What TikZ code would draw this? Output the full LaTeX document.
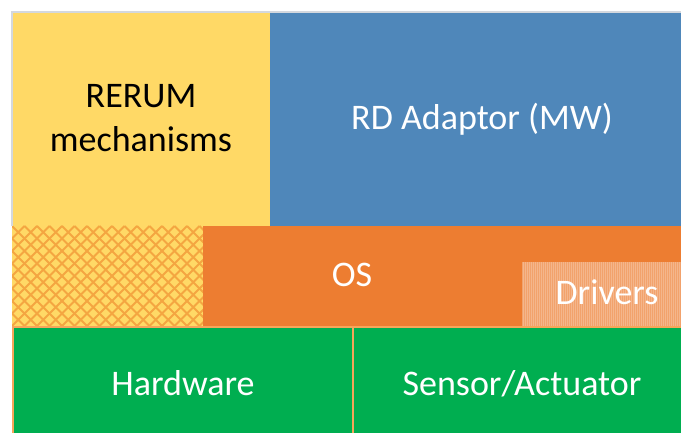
\documentclass[tikz,border=0pt]{standalone}
\usepackage{fontspec}
\setmainfont{Carlito}
\definecolor{cyellow}{HTML}{FFD966}
\definecolor{cblue}{HTML}{4F87BA}
\definecolor{corange}{HTML}{ED7D31}
\definecolor{cgreen}{HTML}{00AE50}
\definecolor{chatch}{HTML}{F4A641}
\definecolor{cdriver}{HTML}{F2A26C}
\definecolor{cedge}{HTML}{F5A65A}
\definecolor{cframe}{HTML}{D4D8DE}
\tikzset{
  box/.style={anchor=north west, inner sep=0pt, outer sep=0pt, draw=none},
  lbl/.style={anchor=base, inner sep=0pt, font=\fontsize{36}{44}\selectfont, text=white},
}
\begin{document}
\begin{tikzpicture}[x=1pt,y=-1pt]
\useasboundingbox (0,0) rectangle (681,433);
\fill[white] (0,0) rectangle (681,433);
\begin{scope}
\clip (0,0) rectangle (681,433);
% top row
\node[box, fill=cyellow, minimum width=258pt, minimum height=214pt] (rerum) at (12,12) {};
\node[box, fill=cblue, minimum width=423pt, minimum height=214pt] (rd) at (270,12) {};
% middle row
\node[box, fill=cyellow, minimum width=191pt, minimum height=100pt] (hatch) at (12,226) {};
\begin{scope}
\clip (12,226) rectangle (203,326);
\foreach \i in {-10,...,26} {
  \draw[chatch, line width=2pt] (12+\i*12.5,226) -- ++(110,110);
  \draw[chatch, line width=2pt] (12+\i*12.5,226) -- ++(-110,110);
}
\end{scope}
\node[box, fill=corange, minimum width=490pt, minimum height=100pt] (os) at (203,226) {};
\node[box, fill=cdriver, minimum width=171pt, minimum height=64pt] (drv) at (522,262) {};
\begin{scope}
\clip (522,262) rectangle (693,326);
\foreach \i in {0,...,85} {
  \draw[white, opacity=0.22, line width=0.8pt] (523+\i*2,262) -- ++(0,64);
}
\end{scope}
% bottom row
\node[box, fill=cgreen, draw=cedge, line width=2pt, minimum width=340pt, minimum height=120pt] (hw) at (13,327) {};
\node[box, fill=cgreen, draw=cedge, line width=2pt, minimum width=340pt, minimum height=120pt] (sa) at (353,327) {};
% frame
\draw[cframe, line width=1.5pt] (12,226) -- (12,12) -- (681,12);
\end{scope}
% labels
\node[lbl, text=black] (t1) at (141,108) {RERUM};
\node[lbl, text=black] (t2) at (141,152) {mechanisms};
\node[lbl] (t3) at (482,130) {RD Adaptor (MW)};
\node[lbl] (t4) at (352,287) {OS};
\node[lbl] (t5) at (607,305) {Drivers};
\node[lbl] (t6) at (183,395) {Hardware};
\node[lbl] (t7) at (522,395) {Sensor/Actuator};
\end{tikzpicture}
\end{document}
